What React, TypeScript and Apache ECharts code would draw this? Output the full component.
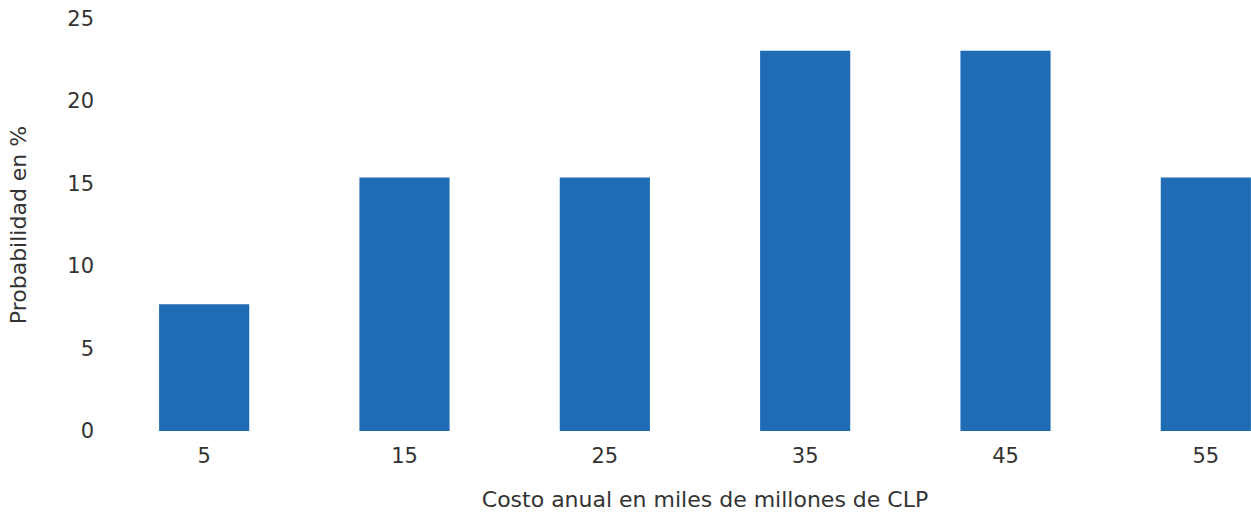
import React, { useEffect, useRef } from "react";
import * as echarts from "echarts";

const categories = ["5", "15", "25", "35", "45", "55"];
const probabilities = [7.69, 15.38, 15.38, 23.08, 23.08, 15.38];
const xAxisTitle = "Costo anual en miles de millones de CLP";
const yAxisTitle = "Probabilidad en %";

export default function App() {
  const ref = useRef<HTMLDivElement>(null);
  useEffect(() => {
    if (!ref.current) return;
    const chart = echarts.init(ref.current, undefined, { renderer: "svg" });
    const font = "DejaVu Sans";
    chart.setOption({
      animation: false,
      grid: {
        left: 104,
        right: 4,
        top: 19,
        bottom: 85,
        containLabel: false,
        outerBoundsMode: "none",
      },
      xAxis: {
        type: "category",
        data: categories,
        axisLine: { show: false },
        axisTick: { show: false },
        axisLabel: { color: "#333", fontSize: 21, fontFamily: font, margin: 14 },
        name: xAxisTitle,
        nameLocation: "middle",
        nameGap: 57,
        nameTextStyle: { color: "#333", fontSize: 22, fontFamily: font },
      },
      yAxis: {
        type: "value",
        min: 0,
        max: 25,
        interval: 5,
        splitLine: { show: false },
        axisLine: { show: false },
        axisTick: { show: false },
        axisLabel: { color: "#333", fontSize: 21, fontFamily: font, margin: 10 },
        name: yAxisTitle,
        nameLocation: "middle",
        nameGap: 75,
        nameTextStyle: { color: "#333", fontSize: 22, fontFamily: font },
      },
      series: [
        {
          type: "bar",
          data: probabilities,
          barWidth: "45%",
          itemStyle: { color: "#1f6bb4" },
        },
      ],
    });
    return () => chart.dispose();
  }, []);
  return (
    <div
      style={{
        position: "absolute",
        left: 0,
        top: 0,
        width: 1251,
        height: 516,
        overflow: "hidden",
      }}
    >
      <div ref={ref} style={{ width: 1310, height: 516 }} />
    </div>
  );
}
